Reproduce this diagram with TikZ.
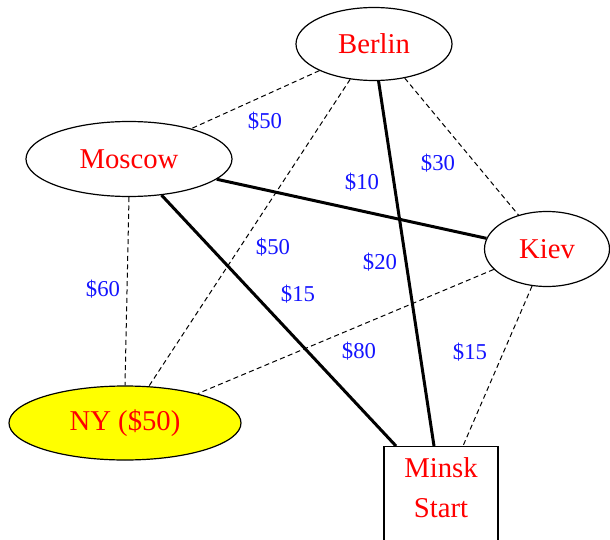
\documentclass[tikz,border=0pt]{standalone}
\usepackage{fontspec}
\setmainfont{Liberation Serif}
\usetikzlibrary{shapes.geometric,calc}
\definecolor{cityred}{RGB}{255,0,0}
\definecolor{costblue}{RGB}{20,20,255}
\definecolor{nyfill}{RGB}{255,255,0}
\begin{document}
\begin{tikzpicture}[x=0.5pt,y=-0.5pt,
  city/.style={ellipse,draw,line width=0.6pt,inner sep=0pt,text=cityred,
               font=\fontsize{14.35}{20}\selectfont},
  cityname/.style={text=cityred,align=center,inner sep=0pt,
               font=\fontsize{14.35}{20}\selectfont},
  cost/.style={text=costblue,inner sep=0pt,font=\fontsize{11.35}{13}\selectfont},
  road/.style={line width=0.5pt,dash pattern=on 2.5pt off 1.7pt},
  route/.style={line width=1.5pt}]
\useasboundingbox (0,0) rectangle (610,540);

% cities
\node[city,minimum width=78pt,minimum height=36.5pt] (berlin) at (374,44) {Berlin};
\node[city,minimum width=103pt,minimum height=37.5pt] (moscow) at (129,159) {Moscow};
\node[city,minimum width=62.5pt,minimum height=37.5pt] (kiev) at (547,249) {Kiev};
\node[city,fill=nyfill,minimum width=116pt,minimum height=37pt] (ny) at (125,423) {NY (\$50)};
\node[draw,line width=0.6pt,rectangle,anchor=north,inner sep=0pt,
      minimum width=57pt,minimum height=55pt] (minsk) at (441,446) {};
\node[cityname] (minskname) at (441,488) {Minsk\\Start};

% roads
\draw[road]  (berlin.206) -- (moscow.26);
\draw[road]  (berlin.236) -- (ny.57);
\draw[route] (berlin.277) -- ($(minsk.north)+(-7,0)$);
\draw[road]  (berlin.312) -- (kiev.130);
\draw[route] (moscow.347) -- (kiev.170);
\draw[road]  (moscow.270) -- (ny.90);
\draw[route] (moscow.312) -- ($(minsk.north)+(-45,0)$);
\draw[road]  (kiev.201) -- (ny.22);
\draw[road]  (kiev.248) -- ($(minsk.north)+(22,0)$);

% costs
\node[cost] (c1) at (265,121) {\$50};
\node[cost] (c2) at (273,247) {\$50};
\node[cost] (c3) at (380,262) {\$20};
\node[cost] (c4) at (298,294) {\$15};
\node[cost] (c5) at (359,351) {\$80};
\node[cost] (c6) at (438,163) {\$30};
\node[cost] (c7) at (362,182) {\$10};
\node[cost] (c8) at (103,289) {\$60};
\node[cost] (c9) at (470,352) {\$15};
\end{tikzpicture}
\end{document}
